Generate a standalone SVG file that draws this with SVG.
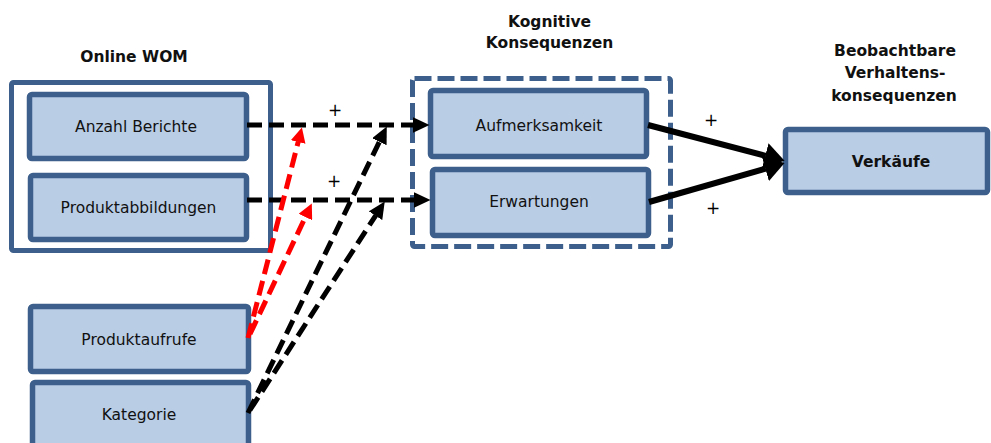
<svg xmlns="http://www.w3.org/2000/svg" width="991" height="443" viewBox="0 0 991 443">
  <style>
    .box { fill: #B9CDE5; stroke: #3C5F8B; stroke-width: 5.5; }
    .frame { fill: #FFFFFF; stroke: #3C5F8B; stroke-width: 5; }
    .dframe { fill: none; stroke: #3C5F8B; stroke-width: 5; stroke-dasharray: 17 6; }
    .lbl { font-family: "DejaVu Sans", Verdana, sans-serif; font-size: 15.5px; fill: #111111; text-anchor: middle; }
    .hdr { font-family: "DejaVu Sans", Verdana, sans-serif; font-size: 15.5px; font-weight: bold; fill: #111111; text-anchor: middle; }
    .plus { font-family: "DejaVu Sans", Verdana, sans-serif; font-size: 17px; fill: #000000; text-anchor: middle; }
    .dash { fill: none; stroke: #000000; stroke-width: 5; stroke-dasharray: 15 7; }
    .dashred { fill: none; stroke: #FF0000; stroke-width: 5; stroke-dasharray: 15 7; }
    .solid { fill: none; stroke: #000000; stroke-width: 6; }
  </style>
  <defs>
    <marker id="ahBlack" viewBox="0 0 17 16" markerWidth="17" markerHeight="16" refX="0.5" refY="8" orient="auto" markerUnits="userSpaceOnUse">
      <path d="M0,0 L17,8 L0,16 z" fill="#000000"/>
    </marker>
    <marker id="ahRed" viewBox="0 0 15 15" markerWidth="15" markerHeight="15" refX="0.5" refY="7.5" orient="auto" markerUnits="userSpaceOnUse">
      <path d="M0,0 L15,7.5 L0,15 z" fill="#FF0000"/>
    </marker>
    <marker id="ahBig" viewBox="0 0 20 26" markerWidth="20" markerHeight="26" refX="0.5" refY="13" orient="auto" markerUnits="userSpaceOnUse">
      <path d="M0,0 L20,13 L0,26 z" fill="#000000"/>
    </marker>
  </defs>

  <!-- group headings -->
  <g id="headings">
    <text class="hdr" x="134" y="62">Online WOM</text>
    <text class="hdr" x="549.5" y="27">Kognitive</text>
    <text class="hdr" x="549.5" y="48">Konsequenzen</text>
    <text class="hdr" x="895" y="56">Beobachtbare</text>
    <text class="hdr" x="895" y="78">Verhaltens-</text>
    <text class="hdr" x="894" y="101">konsequenzen</text>
  </g>

  <!-- group frames -->
  <g id="online-wom">
    <rect class="frame" x="11.5" y="82.5" width="259" height="168" rx="2"/>
  </g>
  <g id="kognitive-konsequenzen">
    <rect class="dframe" x="412.5" y="78.5" width="258" height="168" rx="2"/>
  </g>

  <!-- nodes -->
  <g id="anzahl-berichte">
    <rect class="box" x="29.5" y="94.5" width="217" height="64" rx="2.5"/>
    <text class="lbl" x="136" y="132">Anzahl Berichte</text>
  </g>
  <g id="produktabbildungen">
    <rect class="box" x="30.5" y="175.5" width="216" height="64" rx="2.5"/>
    <text class="lbl" x="138.5" y="213">Produktabbildungen</text>
  </g>
  <g id="produktaufrufe">
    <rect class="box" x="30.5" y="306.5" width="218" height="65" rx="2.5"/>
    <text class="lbl" x="139" y="345">Produktaufrufe</text>
  </g>
  <g id="kategorie">
    <rect class="box" x="32.5" y="382.5" width="216" height="72" rx="2.5"/>
    <text class="lbl" x="139" y="420">Kategorie</text>
  </g>
  <g id="aufmerksamkeit">
    <rect class="box" x="430.5" y="90.5" width="216" height="66" rx="2.5"/>
    <text class="lbl" x="539" y="131">Aufmerksamkeit</text>
  </g>
  <g id="erwartungen">
    <rect class="box" x="432.5" y="169.5" width="216" height="66" rx="2.5"/>
    <text class="lbl" x="539" y="207">Erwartungen</text>
  </g>
  <g id="verkaeufe">
    <rect class="box" x="785.5" y="129.5" width="202" height="63" rx="2.5"/>
    <text class="hdr" x="891" y="167">Verkäufe</text>
  </g>

  <!-- connectors -->
  <g id="connectors">
    <path class="dash" d="M247,125 L413,125" marker-end="url(#ahBlack)"/>
    <path class="dash" d="M247,200 L414,200" marker-end="url(#ahBlack)"/>
    <path class="dashred" d="M248,338 L298.3,141.5" marker-end="url(#ahRed)"/>
    <path class="dashred" d="M250,334 L305.6,216.6" marker-end="url(#ahRed)"/>
    <path class="dash" d="M248,413 L379.6,141.3" marker-end="url(#ahBlack)"/>
    <path class="dash" d="M250,410 L375.8,215.3" marker-end="url(#ahBlack)"/>
    <path class="solid" d="M648,125 L765.7,155.9" marker-end="url(#ahBig)"/>
    <path class="solid" d="M649,202 L765.8,168.5" marker-end="url(#ahBig)"/>
  </g>

  <!-- effect signs -->
  <g id="signs">
    <text class="plus" x="335" y="116">+</text>
    <text class="plus" x="334" y="187">+</text>
    <text class="plus" x="711" y="126">+</text>
    <text class="plus" x="713" y="214">+</text>
  </g>
</svg>
